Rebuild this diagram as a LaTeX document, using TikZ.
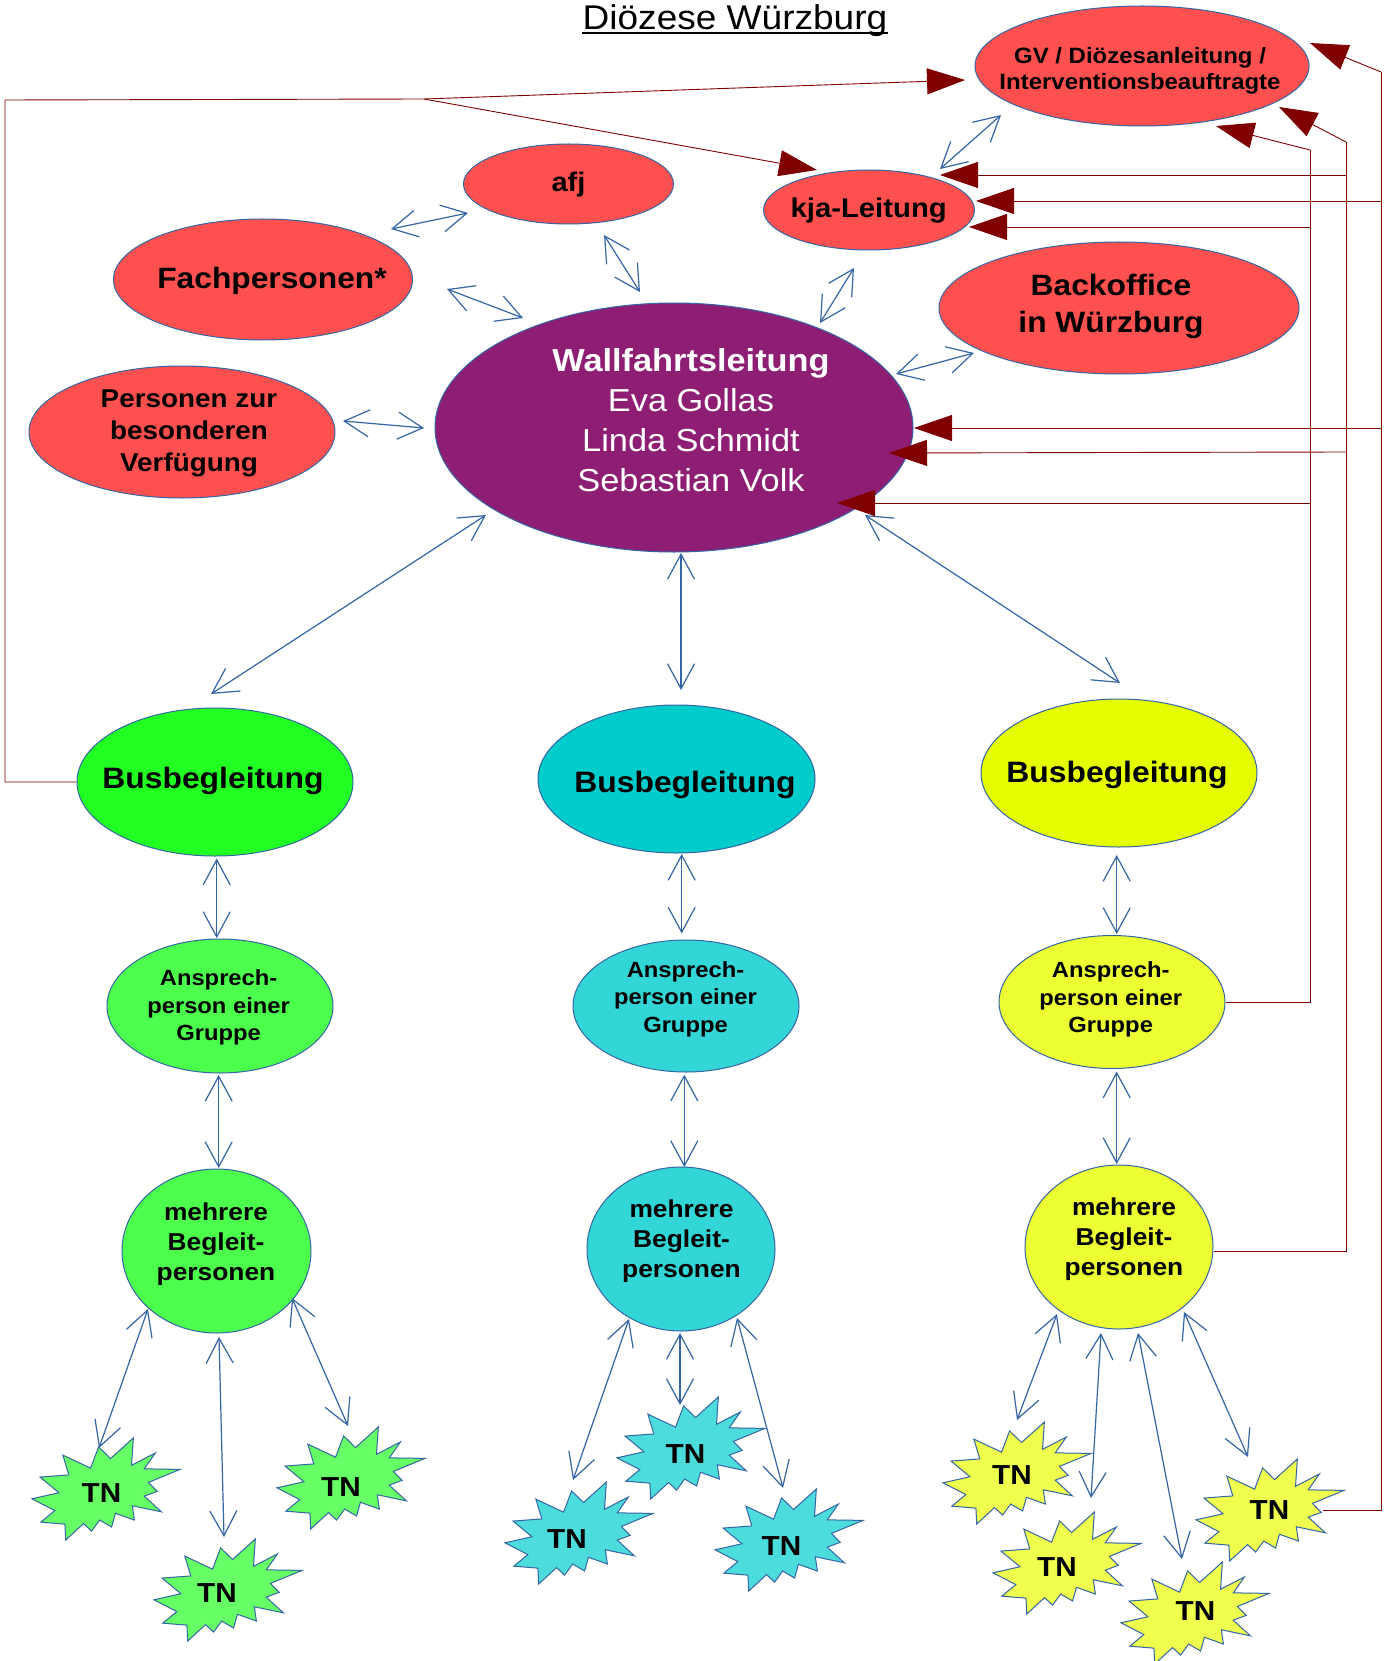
\documentclass[tikz,border=0pt]{standalone}
\usepackage{fontspec}
\setmainfont{Liberation Sans}[FakeStretch=1.08]
\usetikzlibrary{shapes.geometric,arrows.meta}

\definecolor{eblue}{HTML}{3465A4}
\definecolor{ablue}{HTML}{3465A4}
\definecolor{rline}{HTML}{800000}
\definecolor{cred}{HTML}{FF5050}
\definecolor{cpur}{HTML}{8E1E73}
\definecolor{gA}{HTML}{22FF22}
\definecolor{gB}{HTML}{4CFF4C}
\definecolor{gC}{HTML}{66FF66}
\definecolor{cA}{HTML}{00CCCC}
\definecolor{cB}{HTML}{33D6D6}
\definecolor{cC}{HTML}{4DDCDC}
\definecolor{yA}{HTML}{E6FF00}
\definecolor{yB}{HTML}{EBFF33}
\definecolor{yC}{HTML}{EEFF4D}

\tikzset{
  ell/.style={ellipse, draw=eblue, line width=1pt, inner sep=0pt},
  lbl/.style={inner sep=0pt, align=center},
  bi/.style={draw=ablue, line width=1.2pt,
    {Straight Barb[length=25pt,width=27pt]}-{Straight Barb[length=25pt,width=27pt]}},
  rl/.style={draw=rline, line width=0.9pt},
  ra/.style={rl, -{Triangle[length=38pt,width=26pt]}},
  starline/.style={draw=eblue, line width=1pt, line join=miter},
  tnlbl/.style={inner sep=0pt, font=\bfseries\fontsize{27.5}{30}\selectfont},
}

\newcommand\tnstar[6]{%
  \begin{scope}[shift={(#2,#3)},xscale=0.68519,yscale=0.47222]
    \draw[starline,fill=#4] (114.64,43.40) -- (97.22,18.87) -- (85.48,63.83) -- (45.03,36.26) -- (53.73,78.16) -- (11.74,82.70) -- (39.34,115.92) -- (0,128.75) -- (33.29,153.72) -- (12.83,178.24) -- (48.04,182.39) -- (49.18,216) -- (75.25,181.25) -- (86.98,197.12) -- (98.71,173.71) -- (116.14,188.44) -- (121.78,159.37) -- (149.43,173.71) -- (146.40,143.48) -- (188.78,156.32) -- (163.82,123.11) -- (182.70,112.92) -- (169.86,94.04) -- (216,66.46) -- (163.82,65.33) -- (180.05,31.72) -- (145.24,57.78) -- (147.89,0) -- cycle;
  \end{scope}
  \node[tnlbl] (#1) at (#5,#6) {TN};
}

\begin{document}
\begin{tikzpicture}[x=1pt,y=-1pt]
\useasboundingbox (0,0) rectangle (1386,1661);
\fill[white] (0,0) rectangle (1386,1661);

% title
\node[anchor=base, inner sep=0pt, font=\fontsize{34.3}{40}\selectfont] (title) at (735,29.5) {Diözese Würzburg};
\draw[line width=2pt] ([yshift=-3.8pt]title.base west) -- ([yshift=-3.8pt]title.base east);

% red ellipses
\node[ell,fill=cred,minimum width=334pt,minimum height=120pt] (gv) at (1142,66) {};
\node[lbl,font=\bfseries\fontsize{22.2}{26}\selectfont] (gvt) at (1140,70.6) {GV / Diözesanleitung /\\Interventionsbeauftragte};

\node[ell,fill=cred,minimum width=210pt,minimum height=80pt] (afj) at (568.5,184) {};
\node[lbl,font=\bfseries\fontsize{26.9}{30}\selectfont] (afjt) at (568.5,185) {afj};

\node[ell,fill=cred,minimum width=211pt,minimum height=80pt] (kja) at (869,210) {};
\node[lbl,font=\bfseries\fontsize{27.1}{30}\selectfont] (kjat) at (868.7,210.7) {kja-Leitung};

\node[ell,fill=cred,minimum width=299pt,minimum height=121pt] (fach) at (263,279.5) {};
\node[lbl,font=\bfseries\fontsize{29.4}{34}\selectfont] (facht) at (272,281) {Fachpersonen*};

\node[ell,fill=cred,minimum width=360pt,minimum height=132pt] (back) at (1119,308) {};
\node[lbl,font=\bfseries\fontsize{29.4}{37}\selectfont] (backt) at (1111,306.4) {Backoffice\\in Würzburg};

\node[ell,fill=cred,minimum width=306pt,minimum height=132pt] (pers) at (182,432) {};
\node[lbl,font=\bfseries\fontsize{25.8}{32}\selectfont] (perst) at (189,433.2) {Personen zur\\besonderen\\Verfügung};

% Wallfahrtsleitung
\node[ell,fill=cpur,minimum width=478pt,minimum height=249pt] (wl) at (674,427.5) {};
\node[lbl,text=white,font=\fontsize{31.8}{40}\selectfont] (wlt) at (691,419.8) {\textbf{Wallfahrtsleitung}\\Eva Gollas\\Linda Schmidt\\Sebastian Volk};

% Busbegleitung
\node[ell,fill=gA,minimum width=276pt,minimum height=148pt] (bus1) at (215,782) {};
\node[lbl,font=\bfseries\fontsize{29.5}{34}\selectfont] (bus1t) at (213,781) {Busbegleitung};
\node[ell,fill=cA,minimum width=277pt,minimum height=148pt] (bus2) at (676.5,779) {};
\node[lbl,font=\bfseries\fontsize{29.5}{34}\selectfont] (bus2t) at (685,784.5) {Busbegleitung};
\node[ell,fill=yA,minimum width=276pt,minimum height=148pt] (bus3) at (1119,773) {};
\node[lbl,font=\bfseries\fontsize{29.5}{34}\selectfont] (bus3t) at (1117,775.3) {Busbegleitung};

% Ansprechperson
\node[ell,fill=gB,minimum width=226pt,minimum height=134pt] (a1) at (220,1006) {};
\node[lbl,font=\bfseries\fontsize{22}{27.5}\selectfont] (a1t) at (218.6,1007.7) {Ansprech-\\person einer\\Gruppe};
\node[ell,fill=cB,minimum width=226pt,minimum height=132pt] (a2) at (686,1006) {};
\node[lbl,font=\bfseries\fontsize{22}{27.5}\selectfont] (a2t) at (685.5,999) {Ansprech-\\person einer\\Gruppe};
\node[ell,fill=yB,minimum width=226pt,minimum height=133pt] (a3) at (1112,1002) {};
\node[lbl,font=\bfseries\fontsize{22}{27.5}\selectfont] (a3t) at (1110.7,999.4) {Ansprech-\\person einer\\Gruppe};

% mehrere Begleitpersonen
\node[ell,fill=gB,minimum width=189pt,minimum height=164pt] (m1) at (216.5,1251) {};
\node[lbl,font=\bfseries\fontsize{24.4}{30}\selectfont] (m1t) at (216,1244.1) {mehrere\\Begleit-\\personen};
\node[ell,fill=cB,minimum width=188pt,minimum height=164pt] (m2) at (681,1249) {};
\node[lbl,font=\bfseries\fontsize{24.4}{30}\selectfont] (m2t) at (681.5,1241.4) {mehrere\\Begleit-\\personen};
\node[ell,fill=yB,minimum width=188pt,minimum height=164pt] (m3) at (1119,1247) {};
\node[lbl,font=\bfseries\fontsize{24.4}{30}\selectfont] (m3t) at (1124,1239.4) {mehrere\\Begleit-\\personen};

% TN stars
\tnstar{tn1}{32}{1438}{gC}{101.5}{1493.5}
\tnstar{tn2}{154}{1539}{gC}{217}{1593}
\tnstar{tn3}{277}{1427}{gC}{341}{1486.7}
\tnstar{tna}{505}{1482}{cC}{567}{1539}
\tnstar{tnb}{617}{1397}{cC}{685.5}{1454}
\tnstar{tnc}{715}{1489}{cC}{781.5}{1546}
\tnstar{tnA}{943}{1422}{yC}{1012}{1475}
\tnstar{tnB}{993}{1512}{yC}{1057}{1567}
\tnstar{tnC}{1121}{1562}{yC}{1195.5}{1611}
\tnstar{tnD}{1196}{1459}{yC}{1269.5}{1510.5}

% blue double arrows
\draw[bi] ([shift={(128,-50.5)}]fach.center) -- ([shift={(-100.5,29)}]afj.center);
\draw[bi] ([shift={(35.5,51)}]afj.center) -- ([shift={(-34,-135.5)}]wl.center);
\draw[bi] ([shift={(184,9.5)}]fach.center) -- ([shift={(-151,-109.5)}]wl.center);
\draw[bi] ([shift={(-15,58)}]kja.center) -- ([shift={(146,-104.5)}]wl.center);
\draw[bi] ([shift={(-141,49)}]gv.center) -- ([shift={(71,-41)}]kja.center);
\draw[bi] ([shift={(-145,45)}]back.center) -- ([shift={(222,-53.5)}]wl.center);
\draw[bi] ([shift={(161,-11)}]pers.center) -- ([shift={(-250,0.5)}]wl.center);
\draw[bi] ([shift={(-188,87.5)}]wl.center) -- ([shift={(-4,-88)}]bus1.center);
\draw[bi] ([shift={(7,125.5)}]wl.center) -- ([shift={(4.5,-89)}]bus2.center);
\draw[bi] ([shift={(191,87.5)}]wl.center) -- ([shift={(1,-90)}]bus3.center);
\draw[bi] ([shift={(1.7,76.6)}]bus1.center) -- ([shift={(-3.3,-68)}]a1.center);
\draw[bi] ([shift={(5.2,75)}]bus2.center) -- ([shift={(-4.3,-72.5)}]a2.center);
\draw[bi] ([shift={(-2.3,82)}]bus3.center) -- ([shift={(4.7,-68)}]a3.center);
\draw[bi] ([shift={(-1.3,69)}]a1.center) -- ([shift={(2.2,-83)}]m1.center);
\draw[bi] ([shift={(-1.7,68.7)}]a2.center) -- ([shift={(3.3,-82)}]m2.center);
\draw[bi] ([shift={(4.7,69.6)}]a3.center) -- ([shift={(-2.3,-83)}]m3.center);
\draw[bi] ([shift={(-68.5,58)}]m1.center) -- ([shift={(-2.5,-45.5)}]tn1.center);
\draw[bi] ([shift={(2.5,86)}]m1.center) -- ([shift={(7,-56)}]tn2.center);
\draw[bi] ([shift={(75.5,47)}]m1.center) -- ([shift={(7,-60.7)}]tn3.center);
\draw[bi] ([shift={(-52,70)}]m2.center) -- ([shift={(6,-59)}]tna.center);
\draw[bi] ([shift={(-1,84)}]m2.center) -- ([shift={(-5.5,-49)}]tnb.center);
\draw[bi] ([shift={(56,69)}]m2.center) -- ([shift={(1.5,-58)}]tnc.center);
\draw[bi] ([shift={(-62,67)}]m3.center) -- ([shift={(5,-55)}]tnA.center);
\draw[bi] ([shift={(-18,86)}]m3.center) -- ([shift={(34,-69)}]tnB.center);
\draw[bi] ([shift={(19,86)}]m3.center) -- ([shift={(-13.5,-52)}]tnC.center);
\draw[bi] ([shift={(65,65)}]m3.center) -- ([shift={(-21.5,-53.5)}]tnD.center);

% red connectors
\coordinate (j1) at (424,99);
\draw[rl] (bus1.west) -- (5,782) -- (5,100) -- (j1);
\draw[ra] (j1) -- ([shift={(-177,14)}]gv.center);
\draw[ra] (j1) -- ([shift={(-52,-40)}]kja.center);

\coordinate (v1t) at (1381,72);
\coordinate (v1k) at (1381,201);
\coordinate (v1w) at (1381,428);
\draw[rl] ([shift={(53.5,0)}]tnD.center) -| (v1t);
\draw[ra] (v1t) -- ([shift={(168,-23)}]gv.center);
\draw[ra] (v1k) -- ([shift={(107,-9)}]kja.center);
\draw[ra] (v1w) -- ([shift={(240,0.5)}]wl.center);

\coordinate (v2t) at (1346,142);
\coordinate (v2k) at (1346,175);
\coordinate (v2w) at (1346,452);
\draw[rl] ([shift={(0,4)}]m3.east) -| (v2t);
\draw[ra] (v2t) -- ([shift={(137,41)}]gv.center);
\draw[ra] (v2k) -- ([shift={(71,-35)}]kja.center);
\draw[ra] (v2w) -- ([shift={(215,25.5)}]wl.center);

\coordinate (v3t) at (1310,150);
\coordinate (v3k) at (1310,227);
\coordinate (v3w) at (1310,503);
\draw[rl] (a3.east) -| (v3t);
\draw[ra] (v3t) -- ([shift={(74,60)}]gv.center);
\draw[ra] (v3k) -- ([shift={(100,17)}]kja.center);
\draw[ra] (v3w) -- ([shift={(163,75.5)}]wl.center);
\end{tikzpicture}
\end{document}
